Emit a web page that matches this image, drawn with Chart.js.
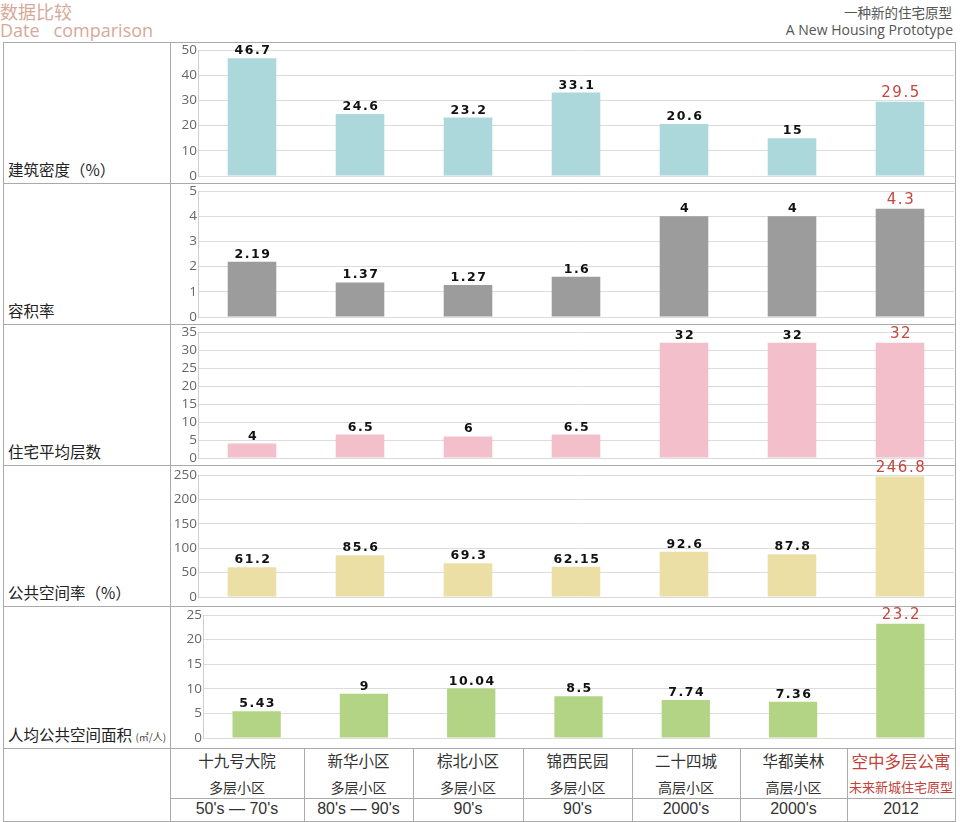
<!DOCTYPE html>
<html>
<head>
<meta charset="utf-8">
<script src="https://cdn.jsdelivr.net/npm/chart.js@4.4.0/dist/chart.umd.min.js"></script>
<style>
  body { margin: 0; width: 960px; height: 822px; position: relative; overflow: hidden; background: #fff;
         font-family: "Noto Sans CJK SC", "Noto Sans", sans-serif; }
  .abs { position: absolute; }
  .hline { position: absolute; height: 1px; background: #aaa; }
  .vline { position: absolute; width: 1px; background: #aaa; }
  canvas { position: absolute; }
  .rowtitle { position: absolute; left: 8px; font-size: 15.5px; color: #222; white-space: nowrap; }
  .cell { position: absolute; text-align: center; white-space: nowrap; color: #333; }
</style>
</head>
<body>
<div class="abs" style="left:0;top:-2px;font-size:18px;color:#d6a999;">数据比较</div>
<div class="abs" style="left:0;top:18px;font-size:18px;color:#d6a999;font-family:'Open Sans';white-space:pre;">Date   comparison</div>
<div class="abs" style="right:8px;top:2px;font-size:13.5px;color:#555;">一种新的住宅原型</div>
<div class="abs" style="right:7px;top:20px;font-size:14px;color:#555;font-family:'Open Sans';">A New Housing Prototype</div>
<div id="grid"></div>

<script>
// categories and table text
var sites = ['十九号大院', '新华小区', '棕北小区', '锦西民园', '二十四城', '华都美林', '空中多层公寓'];
var types = ['多层小区', '多层小区', '多层小区', '多层小区', '高层小区', '高层小区', '未来新城住宅原型'];
var eras = ["50's — 70's", "80's — 90's", "90's", "90's", "2000's", "2000's", "2012"];

// series values
var density = [46.7, 24.6, 23.2, 33.1, 20.6, 15, 29.5];
var plotRatio = [2.19, 1.37, 1.27, 1.6, 4, 4, 4.3];
var floors = [4, 6.5, 6, 6.5, 32, 32, 32];
var publicRate = [61.2, 85.6, 69.3, 62.15, 92.6, 87.8, 246.8];
var publicPerCap = [5.43, 9, 10.04, 8.5, 7.74, 7.36, 23.2];

// axis ranges
var axisMax = [50, 5, 35, 250, 25];
var axisStep = [10, 1, 5, 50, 5];
var rowTitles = ['建筑密度（%）', '容积率', '住宅平均层数', '公共空间率（%）', '人均公共空间面积'];

// layout
var rowTops = [42, 183, 324, 465, 606, 748];
var colEdges = [170, 304, 413, 523, 632, 740, 847, 955];
var plotTop = [7, 7, 7, 9, 8];
var plotBottom = [133, 133, 133, 131, 131];
var grid = document.getElementById('grid');

function addDiv(cls, css, html) {
  var d = document.createElement('div');
  d.className = cls;
  d.style.cssText = css;
  if (html) d.innerHTML = html;
  grid.appendChild(d);
  return d;
}

// frame lines
addDiv('hline', 'left:3px;top:42px;width:953px;');
addDiv('hline', 'left:3px;top:821px;width:953px;');
addDiv('vline', 'left:3px;top:42px;height:780px;');
addDiv('vline', 'left:955px;top:42px;height:780px;');
addDiv('vline', 'left:170px;top:42px;height:780px;');
for (var r = 1; r < rowTops.length; r++) {
  addDiv('hline', 'left:3px;top:' + rowTops[r] + 'px;width:953px;');
}
addDiv('hline', 'left:170px;top:798px;width:786px;');
for (var c = 1; c < colEdges.length - 1; c++) {
  addDiv('vline', 'left:' + colEdges[c] + 'px;top:748px;height:73px;');
}

// bottom table
for (var i = 0; i < sites.length; i++) {
  var x0 = colEdges[i], w = colEdges[i + 1] - colEdges[i];
  var last = i === sites.length - 1;
  var col = last ? '#c0433b' : '#333';
  addDiv('cell', 'left:' + x0 + 'px;width:' + w + 'px;top:749px;font-size:' + (last ? 16.5 : 15.5) + 'px;color:' + col + ';', sites[i]);
  addDiv('cell', 'left:' + x0 + 'px;width:' + w + 'px;top:777px;font-size:' + (last ? 13 : 14) + 'px;color:' + col + ';', types[i]);
  addDiv('cell', 'left:' + x0 + 'px;width:' + w + 'px;top:800px;font-size:16px;font-family:\'Liberation Sans\';color:#333;', eras[i]);
}

// row titles
for (var r = 0; r < rowTitles.length; r++) {
  var t = rowTitles[r];
  if (r === 4) t += ' <span style="font-size:10px;color:#444;">(㎡/人)</span>';
  addDiv('rowtitle', 'top:' + (rowTops[r + 1] - 25) + 'px;', t);
}

var valueLabels = {
  id: 'valueLabels',
  afterDatasetsDraw: function(chart) {
    var ctx = chart.ctx;
    var meta = chart.getDatasetMeta(0);
    var vals = chart.data.datasets[0].data;
    ctx.save();
    ctx.textAlign = 'center';
    ctx.textBaseline = 'bottom';
    meta.data.forEach(function(bar, i) {
      var last = i === vals.length - 1;
      ctx.fillStyle = last ? '#c6453c' : '#111';
      ctx.font = last ? '15px "DejaVu Sans"' : 'bold 12.5px "DejaVu Sans"';
      ctx.letterSpacing = '1.5px';
      ctx.fillText(String(vals[i]), bar.x + 1, bar.y - 1);
    });
    ctx.restore();
  }
};

var series = [density, plotRatio, floors, publicRate, publicPerCap];
var colors = ['#acd8dc', '#9c9c9c', '#f2bfcb', '#ecdfa6', '#b3d485'];
var extraTop = 18;

for (var r = 0; r < series.length; r++) {
  var cv = document.createElement('canvas');
  var h = rowTops[r + 1] - rowTops[r] - 1;
  cv.width = 785;
  cv.height = h + extraTop;
  cv.style.left = '171px';
  cv.style.top = (rowTops[r] + 1 - extraTop) + 'px';
  document.body.appendChild(cv);
  var shift = r === 4 ? 5 : 0;
  new Chart(cv, {
    type: 'bar',
    data: {
      labels: sites,
      datasets: [{
        data: series[r],
        backgroundColor: colors[r],
        barPercentage: 0.9,
        categoryPercentage: 0.5
      }]
    },
    options: {
      responsive: false,
      animation: false,
      layout: { padding: { top: extraTop + plotTop[r], right: 2, bottom: h - plotBottom[r], left: shift } },
      plugins: { legend: { display: false }, tooltip: { enabled: false } },
      scales: {
        x: { display: false },
        y: {
          min: 0,
          max: axisMax[r],
          ticks: { stepSize: axisStep[r], autoSkip: false, color: '#666', padding: 1, font: { family: 'Open Sans', size: 13.5 } },
          grid: { color: '#dcdcdc', drawTicks: false },
          border: { color: '#cfcfcf' },
          afterFit: function(s) { s.width = 27; s.paddingTop = 0; s.paddingBottom = 0; }
        }
      }
    },
    plugins: [valueLabels]
  });
}
</script>
</body>
</html>
